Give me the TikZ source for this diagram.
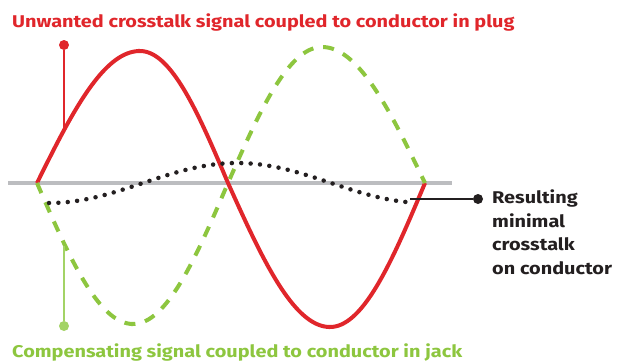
\documentclass[tikz,border=0pt]{standalone}
\usepackage{fontspec}
\setmainfont[FakeStretch=1.17]{Fira Sans}
\definecolor{cred}{HTML}{E0262B}
\definecolor{cgreen}{HTML}{8DC63F}
\definecolor{cgreenl}{HTML}{A3D366}
\definecolor{cgray}{HTML}{BCBDC0}
\definecolor{ctext}{HTML}{231F20}
\begin{document}
\begin{tikzpicture}[x=1pt,y=-1pt,
  axisline/.style={draw=cgray,line width=4pt},
  redwave/.style={draw=cred,line width=4pt},
  greenwave/.style={draw=cgreen,line width=4pt,dash pattern=on 11pt off 10pt},
  dotwave/.style={draw=ctext,line width=4.5pt,line cap=round,dash pattern=on 0pt off 9.4pt},
  lbl/.style={font=\bfseries\fontsize{17}{23.5}\selectfont,inner sep=0pt,anchor=west,align=left},
  marker/.style={circle,inner sep=0pt,minimum size=10pt}]
\useasboundingbox (0,0) rectangle (621,362);
% axis
\coordinate (axL) at (8,183);
\coordinate (axR) at (452,183);
\draw[axisline] (axL) -- (axR);
% red wave (quarter sines)
\draw[redwave] plot[domain=37:140,samples=50,smooth] (\x,{183-132*sin((\x-37)/103*90)})
  -- plot[domain=140:228,samples=50,smooth] (\x,{183-132*cos((\x-140)/88*90)})
  -- plot[domain=228:330,samples=50,smooth] (\x,{183+144*sin((\x-228)/102*90)})
  -- plot[domain=330:425,samples=50,smooth] (\x,{183+144*cos((\x-330)/95*90)});
% green wave
\draw[greenwave] plot[domain=37:133,samples=50,smooth] (\x,{183+141*sin((\x-37)/96*90)})
  -- plot[domain=133:228,samples=50,smooth] (\x,{183+141*cos((\x-133)/95*90)})
  -- plot[domain=228:322,samples=50,smooth] (\x,{183-136*sin((\x-228)/94*90)})
  -- plot[domain=322:425,samples=50,smooth] (\x,{183-136*cos((\x-322)/103*90)});
% dotted resulting wave
\draw[dotwave] plot[domain=49:413,samples=80,smooth] (\x,{183+20*cos((\x-49)/376*360)});
% markers
\node[marker,fill=cred] (pdot) at (64,45) {};
\coordinate (pend) at (64,131);
\draw[draw=cred,line width=2.5pt] (pdot) -- (pend);
\node[marker,fill=cgreenl] (jdot) at (64,326) {};
\coordinate (jend) at (64,246);
\draw[draw=cgreenl,line width=2.5pt] (jdot) -- (jend);
\node[marker,fill=ctext] (rdot) at (478,199) {};
\coordinate (rend) at (410,199);
\draw[draw=ctext,line width=2.5pt] (rdot) -- (rend);
% labels
\node[lbl,text=cred] (ltop) at (12,22) {Unwanted crosstalk signal coupled to conductor in plug};
\node[lbl,text=cgreen] (lbot) at (12,352) {Compensating signal coupled to conductor in jack};
\node[lbl,text=ctext,anchor=north west] (lres) at (492,190) {Resulting\\minimal\\crosstalk\\on conductor};
\end{tikzpicture}
\end{document}
